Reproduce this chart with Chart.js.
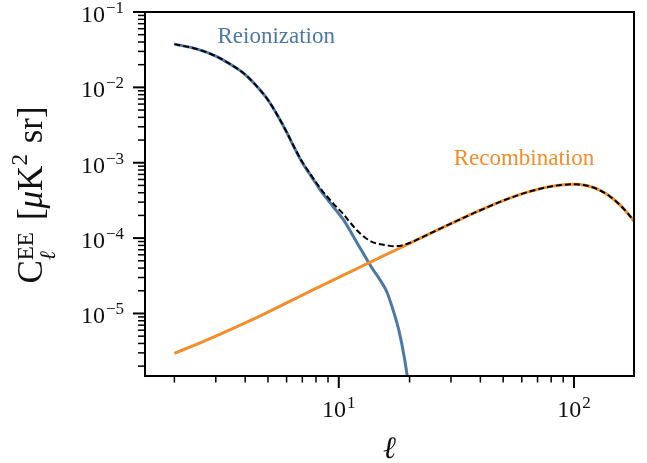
<!DOCTYPE html>
<html>
<head>
<meta charset="utf-8">
<script src="https://cdn.jsdelivr.net/npm/chart.js@4.4.1/dist/chart.umd.min.js"></script>
<style>
  html, body { margin: 0; padding: 0; background: #fff; }
  #wrap { width: 647px; height: 463px; position: relative; }
</style>
</head>
<body>
<div id="wrap"><canvas id="c"></canvas></div>
<script>
// multipole grid
const ELL = [2, 2.5, 3, 3.5, 4, 4.5, 5, 5.5, 6, 6.5,
  7, 7.5, 8, 8.5, 9, 9.5, 10, 10.5, 11, 12,
  13, 14, 15, 16, 17, 18, 19, 20, 21, 22,
  25, 30, 35, 40, 50, 60, 70, 80, 90, 100,
  110, 120, 130, 140, 150, 160, 170, 180];

// C_l^EE [uK^2 sr]
const CL_REION = [0.0375, 0.0322, 0.026, 0.0198, 0.0148, 0.0102, 0.0068, 0.0042, 0.00255, 0.00154,
  0.00100, 0.00072, 0.00053, 0.00040, 0.00032, 0.000257, 0.000211, 0.000173, 0.000136, 8.5e-5,
  5.56e-5, 3.8e-5, 2.77e-5, 1.94e-5, 1.12e-5, 6.0e-6, 2.6e-6, 8.9e-7, 2.5e-7, null,
  null, null, null, null, null, null, null, null, null, null,
  null, null, null, null, null, null, null, null];

const CL_RECOMB = [2.96e-6, 3.93e-6, 5.01e-6, 6.19e-6, 7.48e-6, 8.9e-6, 1.043e-5, 1.206e-5, 1.378e-5, 1.56e-5,
  1.748e-5, 1.945e-5, 2.147e-5, 2.355e-5, 2.57e-5, 2.79e-5, 3.014e-5, 3.243e-5, 3.477e-5, 3.962e-5,
  4.468e-5, 4.993e-5, 5.538e-5, 6.101e-5, 6.682e-5, 7.279e-5, 7.895e-5, 8.53e-5, 9.178e-5, 9.84e-5,
  1.192e-4, 1.56e-4, 1.945e-4, 2.344e-4, 3.144e-4, 3.86e-4, 4.433e-4, 4.853e-4, 5.10e-4, 5.18e-4,
  5.06e-4, 4.73e-4, 4.25e-4, 3.70e-4, 3.13e-4, 2.59e-4, 2.10e-4, 1.688e-4];

const CL_TOTAL = [0.0375, 0.0322, 0.026, 0.0198, 0.0148, 0.0102, 0.00681, 0.00421, 0.00256, 0.00156,
  0.00102, 0.00074, 0.000551, 0.000424, 0.000346, 0.000285, 0.000241, 0.000205, 0.000171, 0.000125,
  1.003e-4, 8.79e-5, 8.31e-5, 8.04e-5, 7.80e-5, 7.88e-5, 8.16e-5, 8.62e-5, 9.20e-5, 9.84e-5,
  1.192e-4, 1.56e-4, 1.945e-4, 2.344e-4, 3.144e-4, 3.86e-4, 4.433e-4, 4.853e-4, 5.10e-4, 5.18e-4,
  5.06e-4, 4.73e-4, 4.25e-4, 3.70e-4, 3.13e-4, 2.59e-4, 2.10e-4, 1.688e-4];

const X_MAJOR = [10, 100];
const Y_MAJOR = [1e-5, 1e-4, 1e-3, 1e-2, 1e-1];
const X_RANGE = [1.5, 180];
const Y_RANGE = [1.48e-6, 0.1];

const ANNOT_TEXT = ['Reionization', 'Recombination'];
const ANNOT_ELL = [3.05, 30.8];
const ANNOT_CL = [0.039, 9.3e-4];

const BLUE = '#4c78a8', ORANGE = '#f28e2b';
const SERIF = '"Liberation Serif", "DejaVu Serif", serif';

const pts = arr => ELL.map((l, i) => ({ x: l, y: arr[i] })).filter(p => p.y != null);

function minors(lo, hi) {
  const out = [];
  for (let e = Math.floor(Math.log10(lo)); e <= Math.ceil(Math.log10(hi)); e++)
    for (let m = 2; m < 10; m++) {
      const v = m * Math.pow(10, e);
      if (v >= lo && v <= hi) out.push(v);
    }
  return out;
}

function pow10(ctx, e, x, y, anchor) {
  const base = '10', sup = (e < 0 ? '\u2212' : '') + Math.abs(e);
  const bf = '24px ' + SERIF, sf = '17px ' + SERIF;
  ctx.font = bf; const bw = ctx.measureText(base).width;
  ctx.font = sf; const sw = ctx.measureText(sup).width;
  const w = bw + 1 + sw;
  const x0 = anchor === 'right' ? x - w : x - w / 2;
  ctx.textAlign = 'left';
  ctx.textBaseline = 'alphabetic';
  ctx.font = bf; ctx.fillText(base, x0, y);
  ctx.font = sf; ctx.fillText(sup, x0 + bw + 1, y - 9);
}

const axesPlugin = {
  id: 'axesPlugin',
  afterDraw(chart) {
    const { ctx, chartArea: a, scales: { x, y } } = chart;
    ctx.save();
    ctx.strokeStyle = '#000';
    ctx.fillStyle = '#111';
    const seg = (x1, y1, x2, y2) => { ctx.beginPath(); ctx.moveTo(x1, y1); ctx.lineTo(x2, y2); ctx.stroke(); };

    // minor ticks
    ctx.lineWidth = 1.5;
    minors(X_RANGE[0], X_RANGE[1]).forEach(v => { const p = x.getPixelForValue(v); seg(p, a.bottom, p, a.bottom + 6.5); });
    minors(Y_RANGE[0], Y_RANGE[1]).forEach(v => { const p = y.getPixelForValue(v); seg(a.left, p, a.left - 7, p); });
    // major ticks
    ctx.lineWidth = 2;
    X_MAJOR.forEach(v => { const p = x.getPixelForValue(v); seg(p, a.bottom, p, a.bottom + 12); });
    Y_MAJOR.forEach(v => { const p = y.getPixelForValue(v); seg(a.left, p, a.left - 12, p); });

    // frame
    ctx.lineWidth = 2;
    ctx.strokeRect(a.left, a.top, a.right - a.left, a.bottom - a.top);

    // tick labels
    X_MAJOR.forEach(v => pow10(ctx, Math.round(Math.log10(v)), x.getPixelForValue(v), a.bottom + 41, 'center'));
    Y_MAJOR.forEach(v => pow10(ctx, Math.round(Math.log10(v)), a.left - 21, y.getPixelForValue(v) + 10, 'right'));

    // x label
    ctx.font = 'italic 31px ' + SERIF;
    ctx.textAlign = 'center';
    ctx.fillText('\u2113', (a.left + a.right) / 2, 458);

    // y label, rotated
    ctx.save();
    ctx.translate(42, 195);
    ctx.rotate(-Math.PI / 2);
    const MAIN = '35px ' + SERIF, MAINI = 'italic 35px ' + SERIF;
    const SMALL = '23px ' + SERIF, SMALLI = 'italic 22px ' + SERIF;
    const runs = [
      { t: 'C', f: MAIN, dy: 0 },
      { t: 'EE', f: SMALL, dy: -9, st: { t: '\u2113', f: SMALLI, dy: 13 }, pad: 3 },
      { t: '[', f: MAIN, dy: 0, pre: 9 },
      { t: '\u03bc', f: MAINI, dy: 0 },
      { t: 'K', f: MAIN, dy: 0 },
      { t: '2', f: SMALL, dy: -15, pad: 2 },
      { t: ' sr]', f: MAIN, dy: 0 }
    ];
    runs.forEach(r => {
      ctx.font = r.f; r.w = ctx.measureText(r.t).width;
      if (r.st) { ctx.font = r.st.f; r.w = Math.max(r.w, ctx.measureText(r.st.t).width); }
      r.w += (r.pad || 0) + (r.pre || 0);
    });
    const total = runs.reduce((s, r) => s + r.w, 0);
    let cx = -total / 2;
    ctx.textAlign = 'left';
    runs.forEach(r => {
      const x0 = cx + (r.pre || 0);
      ctx.font = r.f; ctx.fillText(r.t, x0, r.dy);
      if (r.st) { ctx.font = r.st.f; ctx.fillText(r.st.t, x0, r.st.dy); }
      cx += r.w;
    });
    ctx.restore();

    // annotations
    ctx.font = '23px ' + SERIF;
    ctx.textAlign = 'left';
    [BLUE, ORANGE].forEach((col, i) => {
      ctx.fillStyle = col;
      ctx.fillText(ANNOT_TEXT[i], x.getPixelForValue(ANNOT_ELL[i]), y.getPixelForValue(ANNOT_CL[i]));
    });
    ctx.restore();
  }
};

new Chart(document.getElementById('c'), {
  type: 'line',
  data: {
    datasets: [
      { label: 'Total', data: pts(CL_TOTAL), borderColor: '#000', borderWidth: 2, borderDash: [6, 3], order: 0 },
      { label: 'Recombination', data: pts(CL_RECOMB), borderColor: ORANGE, borderWidth: 3, order: 1 },
      { label: 'Reionization', data: pts(CL_REION), borderColor: BLUE, borderWidth: 3, order: 2 }
    ]
  },
  options: {
    responsive: true,
    maintainAspectRatio: false,
    animation: false,
    events: [],
    layout: { padding: { left: 145, right: 13, top: 12, bottom: 87 } },
    elements: { point: { radius: 0 }, line: { cubicInterpolationMode: 'monotone', fill: false } },
    plugins: { legend: { display: false }, tooltip: { enabled: false } },
    scales: {
      x: { type: 'logarithmic', min: X_RANGE[0], max: X_RANGE[1], display: false },
      y: { type: 'logarithmic', min: Y_RANGE[0], max: Y_RANGE[1], display: false }
    }
  },
  plugins: [axesPlugin]
});
</script>
</body>
</html>
